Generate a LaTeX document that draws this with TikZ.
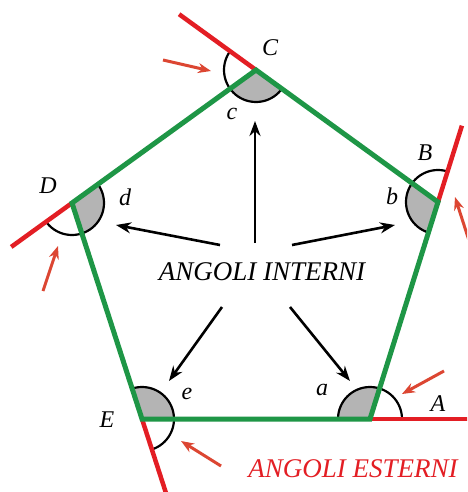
\documentclass[tikz,border=0pt]{standalone}
\usepackage{fontspec}
\setmainfont{Liberation Serif}
\usetikzlibrary{calc,arrows.meta}
\definecolor{pgreen}{RGB}{30,150,70}
\definecolor{pred}{RGB}{227,30,36}
\definecolor{parrow}{RGB}{220,70,50}
\definecolor{pgray}{RGB}{180,180,180}
\begin{document}
\begin{tikzpicture}[x=1pt,y=-1pt,
 side/.style={pgreen,line width=5pt,line join=miter},
 ext/.style={pred,line width=4.5pt},
 arcline/.style={black,line width=2.2pt},
 inarrow/.style={black,line width=2.6pt,-{Stealth[length=15pt,width=11pt]}},
 exarrow/.style={parrow,line width=3pt,-{Stealth[length=13pt,width=10pt]}},
 lbl/.style={font=\itshape\fontsize{24}{24}\selectfont,inner sep=0pt},
 title/.style={font=\itshape\fontsize{27}{27}\selectfont,inner sep=0pt}]
\useasboundingbox (0,0) rectangle (467,492);
\clip (0,0) rectangle (467,492);
\fill[white] (0,0) rectangle (467,492);
% vertices
\coordinate (A) at (370,419);
\coordinate (B) at (438,202);
\coordinate (C) at (256,70);
\coordinate (D) at (72,203);
\coordinate (E) at (142,419);
% extension ends
\coordinate (Cx) at ($(C)!-95pt!(B)$);
\coordinate (Bx) at ($(B)!-80pt!(A)$);
\coordinate (Ax) at ($(A)!-100pt!(E)$);
\coordinate (Ex) at ($(E)!-80pt!(D)$);
\coordinate (Dx) at ($(D)!-75pt!(C)$);
% grey interior sectors
\begin{scope}
 \clip (A)--(B)--(C)--(D)--(E)--cycle;
 \foreach \v in {A,B,C,D,E} \fill[pgray] (\v) circle (32pt);
\end{scope}
% semicircle arcs
\foreach \p/\v/\n in {E/A/B,A/B/C,B/C/D,C/D/E,D/E/A}{
 \begin{scope}
  \clip ($2*(\v)-(\p)$) -- (\p) -- ($(\p)+(\n)-(\v)$) -- ($(\v)-(\p)+(\n)$) -- cycle;
  \draw[arcline] (\v) circle (32pt);
 \end{scope}
}
% red extensions
\foreach \v in {A,B,C,D,E} \draw[ext] (\v) -- (\v x);
% pentagon
\draw[side] (A)--(B)--(C)--(D)--(E)--cycle;
% labels
\node[lbl] (lA) at (438,404) {A};
\node[lbl] (lB) at (425,153) {B};
\node[lbl] (lC) at (270,48) {C};
\node[lbl] (lD) at (48,186) {D};
\node[lbl] (lE) at (107,420) {E};
\node[lbl] (la) at (322,390) {a};
\node[lbl] (lb) at (392,196) {b};
\node[lbl] (lc) at (232,114) {c};
\node[lbl] (ld) at (125,197) {d};
\node[lbl] (le) at (187,394) {e};
\node[title] (int) at (262,272) {ANGOLI INTERNI};
\node[title,text=pred] (est) at (353,469) {ANGOLI ESTERNI};
% interior arrows
\coordinate (t1) at (255,243); \coordinate (h1) at (255,121);
\coordinate (t2) at (220,245); \coordinate (h2) at (116,225);
\coordinate (t3) at (292,245); \coordinate (h3) at (395,225);
\coordinate (t4) at (222,307); \coordinate (h4) at (169,381);
\coordinate (t5) at (290,307); \coordinate (h5) at (350,381);
\foreach \i in {1,...,5} \draw[inarrow] (t\i) -- (h\i);
% exterior arrows
\coordinate (u1) at (163,60); \coordinate (k1) at (211,71);
\coordinate (u2) at (473,253); \coordinate (k2) at (455,197);
\coordinate (u3) at (43,291); \coordinate (k3) at (58,246);
\coordinate (u4) at (221,466); \coordinate (k4) at (181,441);
\coordinate (u5) at (444,371); \coordinate (k5) at (402,394);
\foreach \i in {1,...,5} \draw[exarrow] (u\i) -- (k\i);
\end{tikzpicture}
\end{document}
